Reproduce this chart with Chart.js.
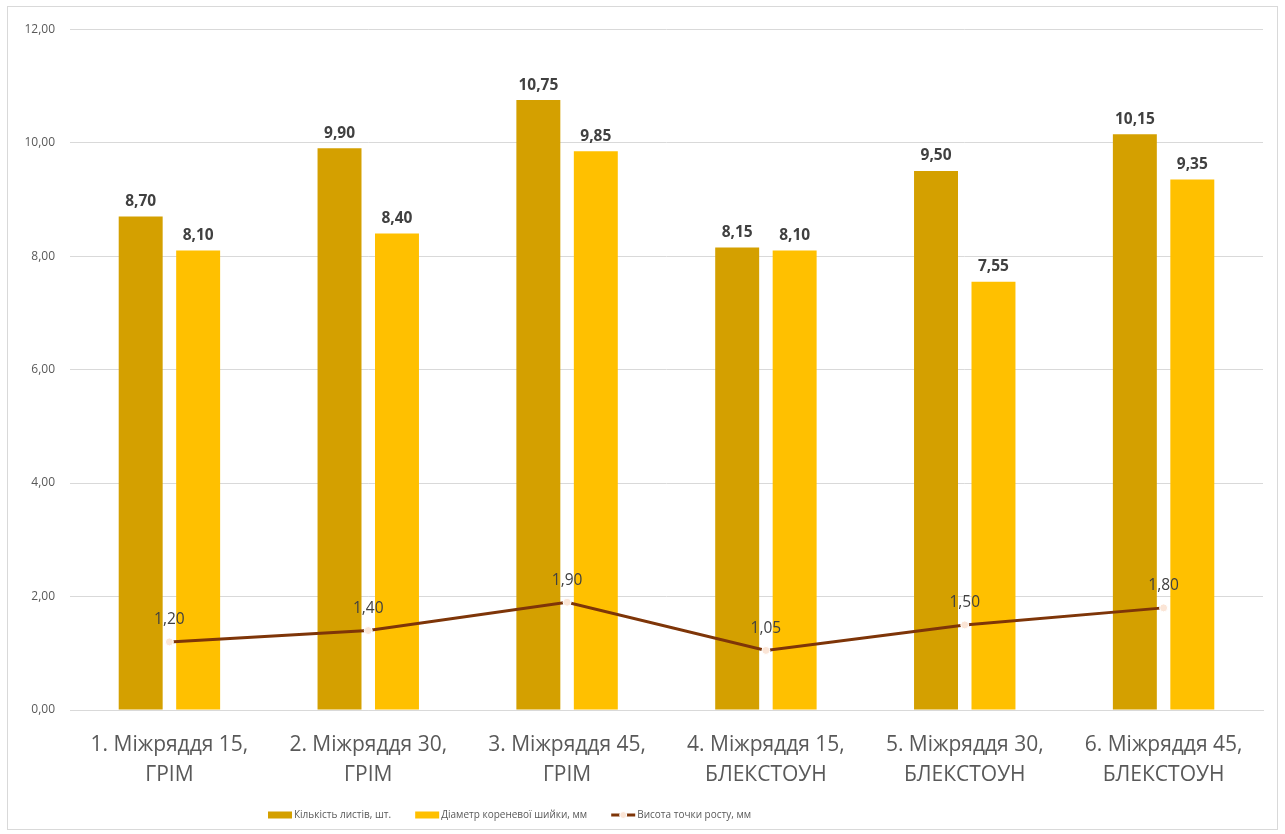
<!DOCTYPE html>
<html><head><meta charset="utf-8">
<script src="https://cdn.jsdelivr.net/npm/chart.js@4.4.0/dist/chart.umd.min.js"></script>
<style>
html,body{margin:0;padding:0;background:#fff;}
#wrap{position:absolute;left:7px;top:6px;width:1271px;height:824px;border:1px solid #D9D9D9;box-sizing:border-box;background:#fff;}
canvas{display:block;}
</style></head><body>
<div id="wrap"><canvas id="c" width="1269" height="822"></canvas></div>
<script>
const categories = [
  ["1. Міжряддя 15,", "ГРІМ"],
  ["2. Міжряддя 30,", "ГРІМ"],
  ["3. Міжряддя 45,", "ГРІМ"],
  ["4. Міжряддя 15,", "БЛЕКСТОУН"],
  ["5. Міжряддя 30,", "БЛЕКСТОУН"],
  ["6. Міжряддя 45,", "БЛЕКСТОУН"]
];
const seriesNames = ["Кількість листів, шт.", "Діаметр кореневої шийки, мм", "Висота точки росту, мм"];
const leavesCount = [8.70, 9.90, 10.75, 8.15, 9.50, 10.15];
const rootDiameter = [8.10, 8.40, 9.85, 8.10, 7.55, 9.35];
const growthPoint = [1.20, 1.40, 1.90, 1.05, 1.50, 1.80];
const yMin = 0, yMax = 12, yStep = 2;

const FONT = "'Open Sans', 'Noto Sans', sans-serif";
const fmt = v => v.toFixed(2).replace('.', ',');

const labelPlugin = {
  id: 'valueLabels',
  afterDatasetsDraw(chart) {
    const ctx = chart.ctx;
    ctx.save();
    ctx.textAlign = 'center';
    ctx.textBaseline = 'middle';
    chart.data.datasets.forEach((ds, i) => {
      const meta = chart.getDatasetMeta(i);
      const isLine = ds.type === 'line';
      ctx.font = (isLine ? '400 ' : '700 ') + '15.5px ' + FONT;
      ctx.fillStyle = '#404040';
      meta.data.forEach((el, j) => {
        const off = isLine ? 22 : 15;
        ctx.fillText(fmt(ds.data[j]), el.x, el.y - off);
      });
    });
    ctx.restore();
  }
};

const legendPlugin = {
  id: 'customLegend',
  afterDraw(chart) {
    const ctx = chart.ctx;
    ctx.save();
    ctx.font = '10px ' + FONT;
    ctx.textBaseline = 'middle';
    ctx.textAlign = 'left';
    let x = 260;
    const y = 808;
    const order = [1, 2, 0];
    order.forEach((i) => {
      const ds = chart.data.datasets[i];
      const w = 24;
      if (ds.type === 'line') {
        ctx.strokeStyle = ds.borderColor;
        ctx.lineWidth = 3;
        ctx.beginPath(); ctx.moveTo(x, y); ctx.lineTo(x + w, y); ctx.stroke();
        ctx.beginPath(); ctx.arc(x + w / 2, y, 3.5, 0, Math.PI * 2);
        ctx.fillStyle = ds.pointBackgroundColor; ctx.fill();
        ctx.lineWidth = 1; ctx.strokeStyle = ds.pointBorderColor; ctx.stroke();
      } else {
        ctx.fillStyle = ds.backgroundColor;
        ctx.fillRect(x, y - 3.5, w, 7);
      }
      ctx.fillStyle = '#595959';
      ctx.fillText(ds.label, x + w + 2, y);
      x += w + 2 + ctx.measureText(ds.label).width + 24;
    });
    ctx.restore();
  }
};

new Chart(document.getElementById('c'), {
  data: {
    labels: categories,
    datasets: [
      {
        type: 'line', label: seriesNames[2], data: growthPoint, order: 0,
        borderColor: '#7E3508', borderWidth: 3, backgroundColor: '#7E3508',
        pointRadius: 4, pointBackgroundColor: '#FBE5D6', pointBorderColor: '#FFFFFF', pointBorderWidth: 1,
        tension: 0
      },
      {
        type: 'bar', label: seriesNames[0], data: leavesCount, order: 1,
        backgroundColor: '#D4A000', categoryPercentage: 0.578, barPercentage: 0.765
      },
      {
        type: 'bar', label: seriesNames[1], data: rootDiameter, order: 1,
        backgroundColor: '#FFC000', categoryPercentage: 0.578, barPercentage: 0.765
      }
    ]
  },
  options: {
    responsive: false,
    animation: false,
    layout: { padding: { top: 18, right: 14, left: 0, bottom: 0 } },
    plugins: { legend: { display: false }, tooltip: { enabled: false } },
    scales: {
      x: {
        grid: { display: false, drawTicks: false },
        border: { color: '#D9D9D9' },
        ticks: { color: '#595959', font: { family: FONT, size: 21, lineHeight: 1.43 }, padding: 20, maxRotation: 0, autoSkip: false },
        afterFit(s) { s.height = 119; }
      },
      y: {
        min: yMin, max: yMax,
        grid: { color: '#D9D9D9', drawTicks: false },
        border: { display: false },
        ticks: { stepSize: yStep, color: '#595959', font: { family: FONT, size: 12 }, padding: 15, callback: v => fmt(v) },
        afterFit(s) { s.width = 62; }
      }
    }
  },
  plugins: [labelPlugin, legendPlugin]
});
</script>
</body></html>
